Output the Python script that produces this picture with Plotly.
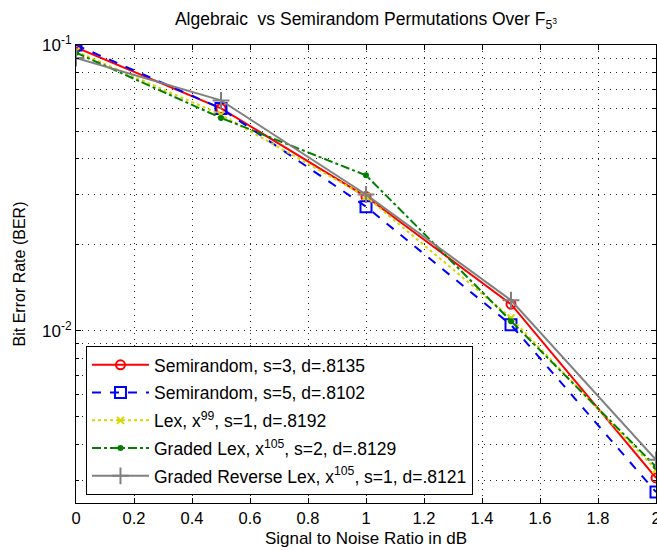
import plotly.graph_objects as go

snr = [0, 0.5, 1, 1.5, 2]
semi3 = [0.098, 0.060, 0.0295, 0.0124, 0.00306]
semi5 = [0.100, 0.060, 0.0272, 0.0105, 0.00273]
lex = [0.095, 0.057, 0.0295, 0.0111, 0.00327]
glex = [0.094, 0.0556, 0.035, 0.0108, 0.00335]
grlex = [0.090, 0.064, 0.030, 0.0128, 0.00354]

names = [
    "Semirandom, s=3, d=.8135",
    "Semirandom, s=5, d=.8102",
    "Lex, x<sup>99</sup>, s=1, d=.8192",
    "Graded Lex, x<sup>105</sup>, s=2, d=.8129",
    "Graded Reverse Lex, x<sup>105</sup>, s=1, d=.8121",
]
series = [semi3, semi5, lex, glex, grlex]
colors = ["#ff0000", "#0000ff", "#d6d600", "#008000", "#808080"]
dashes = ["solid", "dash", "dot", "dashdot", "solid"]
symbols = ["circle-open", "square-open", "x-thin-open", "circle", "cross-thin-open"]
msizes = [9, 11, 7, 4, 12]

major_vals = [0.01, 0.1]
major_text = ["10<sup>-2</sup>", "10<sup>-1</sup>"]
minor_vals = [0.003, 0.004, 0.005, 0.006, 0.007, 0.008, 0.009,
              0.02, 0.03, 0.04, 0.05, 0.06, 0.07, 0.08, 0.09]

fig = go.Figure()
for i, (n, ys) in enumerate(zip(names, series)):
    fig.add_trace(go.Scatter(
        x=snr, y=ys, name=n, mode="lines+markers",
        legendgroup=f"g{i}",
        line=dict(color=colors[i], width=2, dash=dashes[i]),
        marker=dict(symbol=symbols[i], size=msizes[i], color=colors[i],
                    line=dict(color=colors[i], width=2)),
    ))

font = "Liberation Sans, Arial, sans-serif"
grid = dict(showgrid=True, gridcolor="#222222", griddash="1px,5px", gridwidth=1)
fig.update_layout(
    width=657, height=550,
    margin=dict(l=76, r=1, t=45, b=47, autoexpand=False),
    paper_bgcolor="white", plot_bgcolor="white",
    font=dict(family=font, size=17, color="black"),
    title=dict(text="Algebraic  vs Semirandom Permutations Over F<sub>5<sup>3</sup></sub>",
               x=(76 + 656) / 2 / 657, xanchor="center", y=1 - 19 / 550, yanchor="middle",
               font=dict(size=17.5, family=font)),
    showlegend=True,
    legend=dict(x=0.0172, y=0.0175, xanchor="left", yanchor="bottom",
                bgcolor="white", bordercolor="black", borderwidth=1,
                font=dict(size=17.5, family=font), tracegroupgap=2, itemwidth=57),
)
fig.update_xaxes(
    range=[0, 2], dtick=0.2, tick0=0, tickformat="~g",
    showline=True, linecolor="black", linewidth=1, mirror="ticks",
    ticks="inside", ticklen=5, tickcolor="black",
    zeroline=False, ticklabeloverflow="allow", automargin=False,
    title=dict(text="Signal to Noise Ratio in dB", standoff=6, font=dict(size=17)),
    tickfont=dict(size=16.5),
    **grid,
)
fig.update_yaxes(
    type="log", range=[-2.602, -1],
    tickmode="array", tickvals=major_vals, ticktext=major_text,
    showline=True, linecolor="black", linewidth=1, mirror="ticks",
    ticks="inside", ticklen=5, tickcolor="black",
    zeroline=False, automargin=False,
    minor=dict(tickmode="array", tickvals=minor_vals, ticks="inside", ticklen=3,
               tickcolor="black", **grid),
    title=dict(text="Bit Error Rate (BER)", standoff=12, font=dict(size=16)),
    tickfont=dict(size=17),
    **grid,
)

fig.write_html("out.html", config={"displayModeBar": False},
               post_script="document.body.style.margin='0';")
